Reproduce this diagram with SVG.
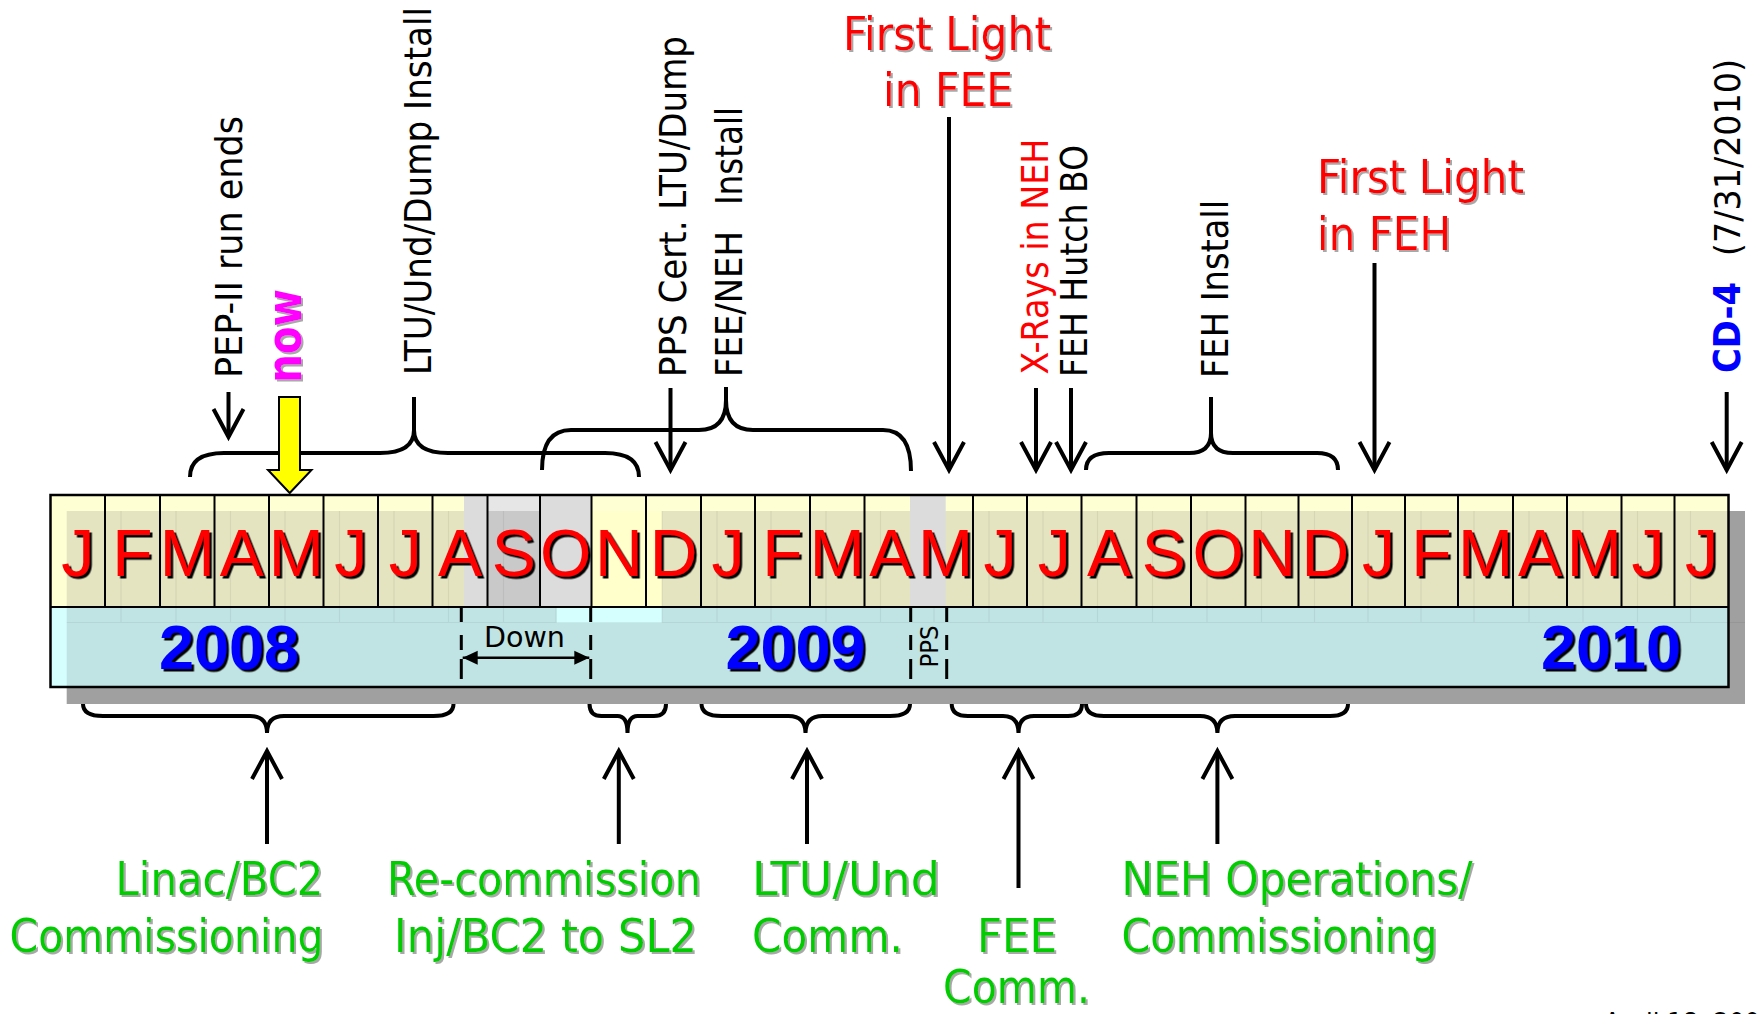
<svg xmlns="http://www.w3.org/2000/svg" width="1759" height="1014" viewBox="0 0 1759 1014">
<defs>
<style>
.cell{stroke:#000;stroke-width:2;fill:none}
.ghost{stroke:#000;stroke-opacity:0.06;stroke-width:1.2}
.mon{font-family:"Liberation Sans",Arial,sans-serif;font-size:66px;fill:#ff0000;text-anchor:middle}
.yr{font-family:"Liberation Sans",Arial,sans-serif;font-size:63px;font-weight:bold;fill:#0000ff;text-anchor:middle}
.t{font-family:"DejaVu Sans Condensed","DejaVu Sans",sans-serif}
.rot{font-size:38px;fill:#000}
.big{font-size:46px}
.red{fill:#ff0000}
.green{fill:#00cc00}
.dash{stroke:#000;stroke-width:3;stroke-dasharray:15 13 15 9 20;fill:none}
.brace{fill:none;stroke:#000;stroke-width:4}
.arrow{fill:none;stroke:#000;stroke-width:4;marker-end:url(#vhead)}
</style>
<marker id="vhead" markerUnits="userSpaceOnUse" viewBox="-34 -20 40 40" markerWidth="40" markerHeight="40" refX="0" refY="0" orient="auto">
<path d="M-28,-15 L0,0 L-28,15" fill="none" stroke="#000" stroke-width="4"/>
</marker>
<marker id="solid" markerUnits="userSpaceOnUse" viewBox="-16 -8 17 16" markerWidth="17" markerHeight="16" refX="0" refY="0" orient="auto-start-reverse">
<path d="M0,0 L-15,-7 L-15,7 Z" fill="#000"/>
</marker>
<filter id="shBlk" x="-5%" y="-10%" width="110%" height="130%"><feDropShadow dx="2.5" dy="2.5" stdDeviation="0.3" flood-color="#000" flood-opacity="1"/></filter>
<filter id="shGry" x="-5%" y="-10%" width="110%" height="130%"><feDropShadow dx="2" dy="2" stdDeviation="0.6" flood-color="#a8a8a8" flood-opacity="1"/></filter>
</defs>
<rect width="1759" height="1014" fill="#fff"/>

<g id="timeline">
  <rect x="66.7" y="511" width="1678.3" height="193" fill="#a0a0a0"/>
  <rect x="50.5" y="495" width="1678" height="112" fill="#ffffd4"/>
  <rect x="66.7" y="511" width="1661.8" height="96" fill="#e4e4c0"/>
  <rect x="50.5" y="607" width="1678" height="80" fill="#d5ffff"/>
  <rect x="66.7" y="607" width="1661.8" height="80" fill="#c0e4e4"/>
  <g class="ghost">
    <path d="M121,511V622.5 M176,511V622.5 M230.5,511V622.5 M285,511V622.5 M339.5,511V622.5 M394,511V622.5 M448.5,511V622.5 M503.5,511V622.5 M556,511V622.5 M607.5,511V622.5 M662,511V622.5 M717,511V622.5 M771,511V622.5 M826,511V622.5 M880.5,511V622.5 M934,511V622.5 M989,511V622.5 M1043,511V622.5 M1097.5,511V622.5 M1152.5,511V622.5 M1207,511V622.5 M1261.5,511V622.5 M1314.5,511V622.5 M1368,511V622.5 M1421,511V622.5 M1474,511V622.5 M1529,511V622.5 M1583,511V622.5 M1637.5,511V622.5 M1690.5,511V622.5 M66.7,622.5H1745"/>
  </g>
  <rect x="464" y="495" width="23.5" height="112" fill="#dcdcdc"/>
  <rect x="487.5" y="495" width="52.5" height="16" fill="#e6e6e6"/>
  <rect x="487.5" y="511" width="52.5" height="96" fill="#c9c9c9"/>
  <path d="M503.5,511V607" class="ghost"/>
  <rect x="540" y="495" width="51.5" height="112" fill="#dcdcdc"/>
  <rect x="591.5" y="511" width="70.2" height="96" fill="#ffffcc"/>
  <rect x="556.7" y="607" width="105" height="15.5" fill="#d5ffff"/>
  <g class="cell">
    <path d="M105,495V607 M160,495V607 M214.5,495V607 M269,495V607 M323.5,495V607 M378,495V607 M432.5,495V607 M487.5,495V607 M540,495V607 M591.5,495V607 M646,495V607 M701,495V607 M755,495V607 M810,495V607 M864.5,495V607 M973,495V607 M1027,495V607 M1081.5,495V607 M1136.5,495V607 M1191,495V607 M1245.5,495V607 M1298.5,495V607 M1352,495V607 M1405,495V607 M1458,495V607 M1513,495V607 M1567,495V607 M1621.5,495V607 M1674.5,495V607 M50.5,607H1728.5"/>
  </g>
  <rect x="910" y="496" width="35.7" height="110" fill="#dcdcdc"/>
  <rect x="50.5" y="495" width="1678" height="192" fill="none" stroke="#000" stroke-width="2.5"/>

  <g class="mon" filter="url(#shBlk)">
    <text x="77.75" y="575.5">J</text>
    <text x="132.5" y="575.5">F</text>
    <text x="187.25" y="575.5">M</text>
    <text x="241.75" y="575.5">A</text>
    <text x="296.25" y="575.5">M</text>
    <text x="350.75" y="575.5">J</text>
    <text x="405.25" y="575.5">J</text>
    <text x="460" y="575.5">A</text>
    <text x="513.75" y="575.5">S</text>
    <text x="565.75" y="575.5">O</text>
    <text x="618.75" y="575.5">N</text>
    <text x="673.5" y="575.5">D</text>
    <text x="728" y="575.5">J</text>
    <text x="782.5" y="575.5">F</text>
    <text x="837.25" y="575.5">M</text>
    <text x="891.25" y="575.5">A</text>
    <text x="945.5" y="575.5">M</text>
    <text x="1000" y="575.5">J</text>
    <text x="1054.25" y="575.5">J</text>
    <text x="1109" y="575.5">A</text>
    <text x="1163.75" y="575.5">S</text>
    <text x="1218.25" y="575.5">O</text>
    <text x="1272" y="575.5">N</text>
    <text x="1325.25" y="575.5">D</text>
    <text x="1378.5" y="575.5">J</text>
    <text x="1431.5" y="575.5">F</text>
    <text x="1485.5" y="575.5">M</text>
    <text x="1540" y="575.5">A</text>
    <text x="1594.25" y="575.5">M</text>
    <text x="1648" y="575.5">J</text>
    <text x="1701.5" y="575.5">J</text>
  </g>
  <g class="yr" filter="url(#shBlk)">
    <text x="229" y="669">2008</text>
    <text x="795.5" y="669">2009</text>
    <text x="1611" y="669">2010</text>
  </g>
</g>

<g id="down-period">
  <path class="dash" d="M461.3,607V679 M590.7,607V679"/>
  <path d="M462.7,657.7H589.3" stroke="#000" stroke-width="2.5" marker-start="url(#solid)" marker-end="url(#solid)"/>
  <text class="t" x="484" y="647.3" font-size="28" textLength="81" lengthAdjust="spacingAndGlyphs">Down</text>
</g>

<g id="pps-period">
  <path class="dash" d="M910.7,607V679 M946.7,607V679"/>
  <text class="t" transform="translate(938.3,667.5) rotate(-90)" font-size="25" textLength="42" lengthAdjust="spacingAndGlyphs">PPS</text>
</g>

<g id="label-pep2">
  <text class="t rot" transform="translate(241.5,378) rotate(-90)" font-size="39" textLength="262" lengthAdjust="spacingAndGlyphs">PEP-II run ends</text>
</g>
<g id="label-now" filter="url(#shGry)">
  <text class="t" transform="translate(301,383) rotate(-90)" font-size="48" font-weight="bold" fill="#ff00ff" textLength="94" lengthAdjust="spacingAndGlyphs">now</text>
</g>
<g id="label-ltu-install">
  <text class="t rot" transform="translate(430.5,375) rotate(-90)" font-size="39" textLength="368" lengthAdjust="spacingAndGlyphs">LTU/Und/Dump Install</text>
</g>
<g id="label-pps-cert">
  <text class="t rot" transform="translate(686,377) rotate(-90)" font-size="39" textLength="341" lengthAdjust="spacingAndGlyphs">PPS Cert. LTU/Dump</text>
</g>
<g id="label-fee-neh-install">
  <text class="t rot" transform="translate(742.4,377) rotate(-90)" textLength="146" lengthAdjust="spacingAndGlyphs">FEE/NEH</text>
  <text class="t rot" transform="translate(742.4,205) rotate(-90)" textLength="98" lengthAdjust="spacingAndGlyphs">Install</text>
</g>
<g id="label-first-light-fee" class="t big red" filter="url(#shGry)">
  <text x="843" y="50" textLength="208" lengthAdjust="spacingAndGlyphs">First Light</text>
  <text x="883" y="106" textLength="130" lengthAdjust="spacingAndGlyphs">in FEE</text>
</g>
<g id="label-xrays">
  <text class="t rot red" transform="translate(1047.8,374.5) rotate(-90)" font-size="37" textLength="236" lengthAdjust="spacingAndGlyphs">X-Rays in NEH</text>
</g>
<g id="label-feh-hutch">
  <text class="t rot" transform="translate(1086.8,377) rotate(-90)" textLength="232" lengthAdjust="spacingAndGlyphs">FEH Hutch BO</text>
</g>
<g id="label-feh-install">
  <text class="t rot" transform="translate(1227.7,378) rotate(-90)" textLength="178" lengthAdjust="spacingAndGlyphs">FEH Install</text>
</g>
<g id="label-first-light-feh" class="t big red" filter="url(#shGry)">
  <text x="1317" y="193" textLength="207" lengthAdjust="spacingAndGlyphs">First Light</text>
  <text x="1317" y="250" textLength="134" lengthAdjust="spacingAndGlyphs">in FEH</text>
</g>
<g id="label-cd4">
  <text class="t" transform="translate(1740.3,373) rotate(-90)" font-size="38" font-weight="bold" fill="#0000ff" textLength="91" lengthAdjust="spacingAndGlyphs">CD-4</text>
  <text class="t" transform="translate(1740.3,256) rotate(-90)" font-size="35" fill="#000" textLength="197" lengthAdjust="spacingAndGlyphs">(7/31/2010)</text>
</g>

<g id="label-linac" class="t big green" filter="url(#shGry)">
  <text x="115.5" y="895" textLength="208" lengthAdjust="spacingAndGlyphs">Linac/BC2</text>
  <text x="9.5" y="951.7" textLength="314" lengthAdjust="spacingAndGlyphs">Commissioning</text>
</g>
<g id="label-recommission" class="t big green" filter="url(#shGry)">
  <text x="387" y="895" textLength="314" lengthAdjust="spacingAndGlyphs">Re-commission</text>
  <text x="394" y="951.7" textLength="303" lengthAdjust="spacingAndGlyphs">Inj/BC2 to SL2</text>
</g>
<g id="label-ltu-comm" class="t big green" filter="url(#shGry)">
  <text x="752" y="895" textLength="188" lengthAdjust="spacingAndGlyphs">LTU/Und</text>
  <text x="752" y="951.7" textLength="151" lengthAdjust="spacingAndGlyphs">Comm.</text>
</g>
<g id="label-fee-comm" class="t big green" filter="url(#shGry)">
  <text x="977" y="951.7" textLength="80" lengthAdjust="spacingAndGlyphs">FEE</text>
  <text x="943" y="1003" textLength="147" lengthAdjust="spacingAndGlyphs">Comm.</text>
</g>
<g id="label-neh-ops" class="t big green" filter="url(#shGry)">
  <text x="1121.5" y="895" textLength="351" lengthAdjust="spacingAndGlyphs">NEH Operations/</text>
  <text x="1121.5" y="951.7" textLength="316" lengthAdjust="spacingAndGlyphs">Commissioning</text>
</g>
<g id="footer">
  <text class="t" x="1604" y="1032" font-size="27" fill="#000">April 18, 2008</text>
</g>

<g id="connectors">
  <path class="brace" d="M190,477 Q190,453 224,453 L380,453 Q414,453 414,430 L414,397 M414,430 Q414,453 448,453 L605,453 Q639,453 639,477"/>
  <path class="brace" d="M542,470 Q542,430 571,430 L699,430 Q726,430 726,400 L726,387 M726,400 Q726,430 753,430 L883,430 Q911,430 911,471"/>
  <path class="brace" d="M1086,470 Q1086,453 1109,453 L1189,453 Q1211,453 1211,433 L1211,397 M1211,433 Q1211,453 1233,453 L1317,453 Q1338,453 1338,470"/>
  <path class="brace" d="M83,704 Q83,716 103,716 L250,716 Q267,716 267,733 Q267,716 284,716 L433.5,716 Q453.5,716 453.5,704"/>
  <path class="brace" d="M589.5,704 Q589.5,716 601.5,716 L617.5,716 Q627.5,716 627.5,733 Q627.5,716 637.5,716 L654,716 Q666,716 666,704"/>
  <path class="brace" d="M701.5,704 Q701.5,716 721.5,716 L788.5,716 Q805.5,716 805.5,733 Q805.5,716 822.5,716 L890,716 Q910,716 910,704"/>
  <path class="brace" d="M951.7,704 Q951.7,716 968,716 L1003,716 Q1018.5,716 1018.5,733 Q1018.5,716 1034,716 L1068,716 Q1082,716 1082,704"/>
  <path class="brace" d="M1086,704 Q1086,716 1104,716 L1200,716 Q1217.4,716 1217.4,733 Q1217.4,716 1235,716 L1330,716 Q1348,716 1348,704"/>

  <path class="arrow" d="M228.5,392 L228.5,437"/>
  <path class="arrow" d="M670.5,388 L670.5,470"/>
  <path class="arrow" d="M949,117 L949,470"/>
  <path class="arrow" d="M1036,388 L1036,470"/>
  <path class="arrow" d="M1071,388 L1071,470"/>
  <path class="arrow" d="M1374.5,263 L1374.5,470"/>
  <path class="arrow" d="M1726.7,392 L1726.7,470"/>

  <path class="arrow" d="M267,844 L267,751"/>
  <path class="arrow" d="M618.8,844 L618.8,751"/>
  <path class="arrow" d="M807,844 L807,751"/>
  <path class="arrow" d="M1018.5,888 L1018.5,751"/>
  <path class="arrow" d="M1217.4,844 L1217.4,751"/>

  <polygon points="279,397 300,397 300,470 311.5,470 289.7,493 268,470 279,470" fill="#ffff00" stroke="#000" stroke-width="2" stroke-linejoin="miter"/>
</g>
</svg>
